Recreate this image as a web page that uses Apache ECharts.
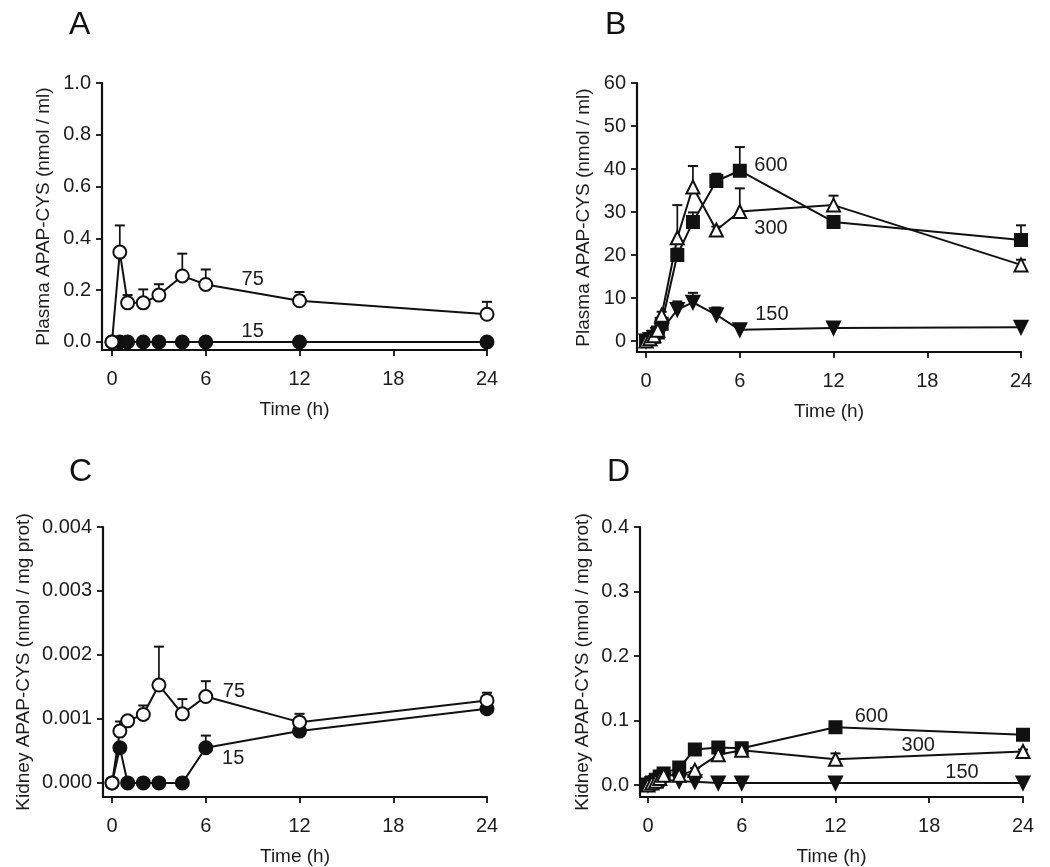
<!DOCTYPE html>
<html>
<head>
<meta charset="utf-8">
<script src="https://cdn.jsdelivr.net/npm/echarts@6/dist/echarts.min.js"></script>
<style>
html,body{margin:0;padding:0;background:#fff;}
#main{width:1050px;height:867px;}
</style>
</head>
<body>
<div id="main"></div>
<script>
// ---------- data ----------
const timesCoarse = [0, 0.5, 1, 2, 3, 4.5, 6, 12, 24];
const timesFine = [0, 0.25, 0.5, 0.75, 1, 2, 3, 4.5, 6, 12, 24];
const xTicks = [0, 6, 12, 18, 24];

// Panel A: plasma, low doses (nmol/ml)
const plasma75 = [0, 0.347, 0.151, 0.151, 0.181, 0.255, 0.222, 0.159, 0.107];
const plasma75Err = [0, 0.103, 0.030, 0.052, 0.042, 0.086, 0.058, 0.034, 0.048];
const plasma15 = [0, 0, 0, 0, 0, 0, 0, 0, 0];
const plasma15Err = [0, 0, 0, 0, 0, 0, 0, 0, 0];
const yTicksA = [0, 0.2, 0.4, 0.6, 0.8, 1.0];

// Panel B: plasma, high doses (nmol/ml)
const plasma600 = [0, 0.4, 1.0, 2.0, 4.0, 20.0, 27.7, 37.2, 39.6, 27.7, 23.5];
const plasma600Err = [0, 0, 0, 0, 0.6, 1.5, 2.2, 1.7, 5.5, 0.8, 3.4];
const plasma300 = [0, 0.5, 1.2, 2.5, 6.0, 24.0, 35.8, 25.8, 30.1, 31.6, 17.7];
const plasma300Err = [0, 0, 0, 0, 0.8, 7.6, 4.9, 0.8, 5.4, 2.2, 1.2];
const plasma150 = [0, 0.3, 0.8, 1.5, 2.5, 7.3, 9.0, 6.1, 2.6, 3.0, 3.2];
const plasma150Err = [0, 0, 0, 0, 0, 1.9, 2.2, 1.7, 0, 0, 0];
const yTicksB = [0, 10, 20, 30, 40, 50, 60];

// Panel C: kidney, low doses (nmol/mg prot)
const kidney75 = [0, 0.00081, 0.00097, 0.00107, 0.00153, 0.00108, 0.00135, 0.00095, 0.00129];
const kidney75Err = [0, 0.00015, 0, 0.00014, 0.0006, 0.00023, 0.00024, 0.00013, 0.00012];
const kidney15 = [0, 0.00055, 0, 0, 0, 0, 0.00055, 0.00081, 0.00116];
const kidney15Err = [0, 0, 0, 0, 0, 0, 0.00019, 0, 0];
const yTicksC = [0, 0.001, 0.002, 0.003, 0.004];

// Panel D: kidney, high doses (nmol/mg prot)
const kidney600 = [0, 0.004, 0.008, 0.013, 0.018, 0.027, 0.055, 0.058, 0.057, 0.0895, 0.078];
const kidney600Err = [0, 0, 0, 0, 0, 0.002, 0.003, 0.003, 0.007, 0.003, 0.003];
const kidney300 = [0, 0.003, 0.006, 0.010, 0.015, 0.015, 0.023, 0.047, 0.054, 0.040, 0.052];
const kidney300Err = [0, 0, 0, 0, 0, 0, 0.003, 0.004, 0.004, 0.009, 0.003];
const kidney150 = [0, 0.002, 0.004, 0.006, 0.008, 0.006, 0.005, 0.003, 0.003, 0.003, 0.003];
const kidney150Err = [0, 0, 0, 0, 0, 0, 0, 0, 0, 0, 0];
const yTicksD = [0, 0.1, 0.2, 0.3, 0.4];

// dose annotations: [text, time, value]
const annotA = [['75', 9.0, 0.24], ['15', 9.0, 0.041]];
const annotB = [['600', 8.0, 40.8], ['300', 8.0, 26.1], ['150', 8.05, 6.1]];
const annotC = [['75', 7.8, 0.00143], ['15', 7.75, 0.00038]];
const annotD = [['600', 14.3, 0.106], ['300', 17.3, 0.0605], ['150', 20.1, 0.019]];

// ---------- chart ----------
const FONT = '"Liberation Sans", Arial, sans-serif';
const INK = '#111';
const TXT = '#1c1c1c';

function pairs(ts, vs) { return ts.map((t, i) => [t, vs[i]]); }

function xAxisDef(idx, min) {
  return {
    gridIndex: idx, type: 'value', min: min, max: 24,
    name: 'Time (h)', nameLocation: 'middle', nameGap: 50,
    nameTextStyle: { fontFamily: FONT, fontSize: 19, color: TXT },
    axisLine: { show: true, onZero: false, lineStyle: { color: INK, width: 2.2 } },
    axisTick: { show: true, inside: false, length: 6, customValues: xTicks, lineStyle: { color: INK, width: 1.8 } },
    axisLabel: { show: true, customValues: xTicks, margin: 19, fontFamily: FONT, fontSize: 20, color: TXT },
    splitLine: { show: false }
  };
}
function yAxisDef(idx, min, max, ticks, name, gap, dec) {
  return {
    gridIndex: idx, type: 'value', min: min, max: max,
    name: name, nameLocation: 'middle', nameGap: gap, nameRotate: 90,
    nameTextStyle: { fontFamily: FONT, fontSize: 19, color: TXT },
    axisLine: { show: true, onZero: false, lineStyle: { color: INK, width: 2.2 } },
    axisTick: { show: true, inside: false, length: 6, customValues: ticks, lineStyle: { color: INK, width: 1.8 } },
    axisLabel: { show: true, customValues: ticks, margin: 11, fontFamily: FONT, fontSize: 20, color: TXT,
      formatter: v => Number(v).toFixed(dec) },
    splitLine: { show: false }
  };
}

function lineSeries(idx, ts, vs, symbol, filled, rotate, size) {
  return {
    type: 'line', xAxisIndex: idx, yAxisIndex: idx,
    data: pairs(ts, vs), symbol: symbol, symbolSize: size, symbolRotate: rotate || 0,
    showAllSymbol: true, animation: false, z: 3,
    lineStyle: { color: INK, width: 2 },
    itemStyle: { color: filled ? INK : '#fff', borderColor: INK, borderWidth: 2, opacity: 1 }
  };
}
function errSeries(idx, ts, vs, es) {
  const data = ts.map((t, i) => [t, vs[i], es[i]]).filter(d => d[2] > 0);
  return {
    type: 'custom', xAxisIndex: idx, yAxisIndex: idx, data: data, z: 2, animation: false,
    encode: { x: 0, y: 1 },
    renderItem: function (params, api) {
      const p0 = api.coord([api.value(0), api.value(1)]);
      const p1 = api.coord([api.value(0), api.value(1) + api.value(2)]);
      return { type: 'group', children: [
        { type: 'line', shape: { x1: p0[0], y1: p0[1], x2: p1[0], y2: p1[1] }, style: { stroke: INK, lineWidth: 1.7 } },
        { type: 'line', shape: { x1: p1[0] - 5, y1: p1[1], x2: p1[0] + 5, y2: p1[1] }, style: { stroke: INK, lineWidth: 2 } }
      ] };
    }
  };
}
function annotSeries(idx, ann) {
  return {
    type: 'scatter', xAxisIndex: idx, yAxisIndex: idx, symbolSize: 1, z: 5, animation: false,
    itemStyle: { color: 'rgba(0,0,0,0)' }, silent: true,
    data: ann.map(a => ({ name: a[0], value: [a[1], a[2]] })),
    label: { show: true, position: 'inside', formatter: p => p.name, fontFamily: FONT, fontSize: 20,
      color: TXT, textBorderWidth: 0, textBorderColor: 'transparent', opacity: 1 }
  };
}

const chart = echarts.init(document.getElementById('main'), null, { renderer: 'canvas' });
const option = {
  backgroundColor: '#fff',
  animation: false,
  grid: [
    { left: 102, top: 83, width: 385, height: 267, outerBoundsMode: 'none' },
    { left: 637, top: 83, width: 384, height: 269, outerBoundsMode: 'none' },
    { left: 103, top: 527, width: 384, height: 270, outerBoundsMode: 'none' },
    { left: 640, top: 527, width: 383, height: 270, outerBoundsMode: 'none' }
  ],
  xAxis: [xAxisDef(0, -0.64), xAxisDef(1, -0.58), xAxisDef(2, -0.58), xAxisDef(3, -0.51)],
  yAxis: [
    yAxisDef(0, -0.031, 1.0, yTicksA, 'Plasma APAP-CYS (nmol / ml)', 49, 1),
    yAxisDef(1, -2.56, 60, yTicksB, 'Plasma APAP-CYS (nmol / ml)', 44, 0),
    yAxisDef(2, -0.00022, 0.004, yTicksC, 'Kidney APAP-CYS (nmol / mg prot)', 70, 3),
    yAxisDef(3, -0.0186, 0.4, yTicksD, 'Kidney APAP-CYS (nmol / mg prot)', 48, 1)
  ],
  graphic: [
    { type: 'text', left: 69, top: 9, style: { text: 'A', fontFamily: FONT, fontSize: 32, fill: '#111' } },
    { type: 'text', left: 605, top: 9, style: { text: 'B', fontFamily: FONT, fontSize: 32, fill: '#111' } },
    { type: 'text', left: 69, top: 456, style: { text: 'C', fontFamily: FONT, fontSize: 32, fill: '#111' } },
    { type: 'text', left: 607, top: 456, style: { text: 'D', fontFamily: FONT, fontSize: 32, fill: '#111' } }
  ],
  series: [
    // A
    errSeries(0, timesCoarse, plasma15, plasma15Err),
    lineSeries(0, timesCoarse, plasma15, 'circle', true, 0, 13),
    errSeries(0, timesCoarse, plasma75, plasma75Err),
    lineSeries(0, timesCoarse, plasma75, 'circle', false, 0, 13),
    annotSeries(0, annotA),
    // B
    errSeries(1, timesFine, plasma150, plasma150Err),
    lineSeries(1, timesFine, plasma150, 'triangle', true, 180, 13),
    errSeries(1, timesFine, plasma600, plasma600Err),
    lineSeries(1, timesFine, plasma600, 'rect', true, 0, 12),
    errSeries(1, timesFine, plasma300, plasma300Err),
    lineSeries(1, timesFine, plasma300, 'triangle', false, 0, 13),
    annotSeries(1, annotB),
    // C
    errSeries(2, timesCoarse, kidney15, kidney15Err),
    lineSeries(2, timesCoarse, kidney15, 'circle', true, 0, 13),
    errSeries(2, timesCoarse, kidney75, kidney75Err),
    lineSeries(2, timesCoarse, kidney75, 'circle', false, 0, 13),
    annotSeries(2, annotC),
    // D
    errSeries(3, timesFine, kidney150, kidney150Err),
    lineSeries(3, timesFine, kidney150, 'triangle', true, 180, 13),
    errSeries(3, timesFine, kidney600, kidney600Err),
    lineSeries(3, timesFine, kidney600, 'rect', true, 0, 12),
    errSeries(3, timesFine, kidney300, kidney300Err),
    lineSeries(3, timesFine, kidney300, 'triangle', false, 0, 13),
    annotSeries(3, annotD)
  ]
};
chart.setOption(option);
</script>
</body>
</html>
